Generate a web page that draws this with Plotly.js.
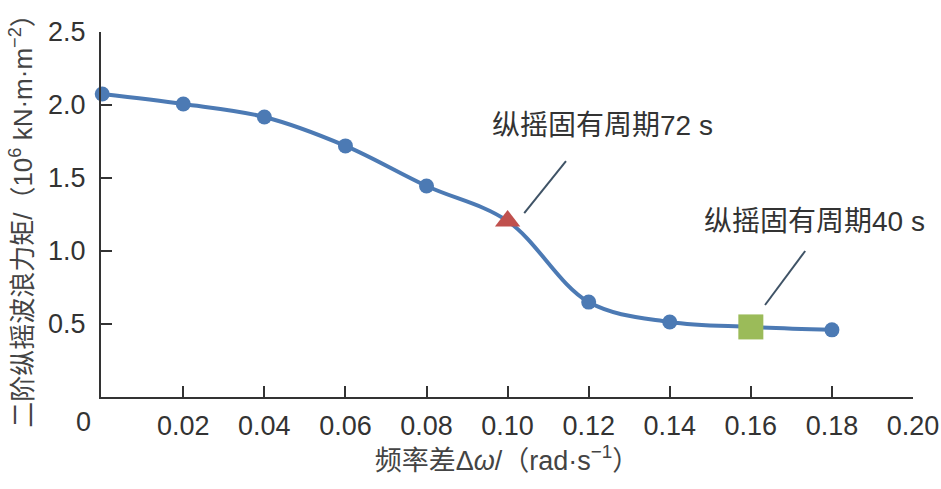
<!DOCTYPE html>
<html>
<head>
<meta charset="utf-8">
<script src="https://cdn.plot.ly/plotly-3.0.1.min.js"></script>
<style>html,body{margin:0;padding:0;background:#fff}#chart{width:941px;height:489px}</style>
</head>
<body>
<div id="chart"></div>
<script>
// Data
var freqDiff = [0, 0.02, 0.04, 0.06, 0.08, 0.10, 0.12, 0.14, 0.16, 0.18];
var moment   = [2.075, 2.007, 1.918, 1.72, 1.445, 1.205, 0.65, 0.514, 0.48, 0.46];
var xTickVals = [0.02, 0.04, 0.06, 0.08, 0.10, 0.12, 0.14, 0.16, 0.18, 0.20];
var xTickText = ['0.02', '0.04', '0.06', '0.08', '0.10', '0.12', '0.14', '0.16', '0.18', '0.20'];
var yTickVals = [0.5, 1.0, 1.5, 2.0, 2.5];
var yTickText = ['0.5', '1.0', '1.5', '2.0', '2.5'];
var pitch72X = 0.10;   // 纵摇固有周期72 s
var pitch40X = 0.16;   // 纵摇固有周期40 s

var blue = '#4C7AB4', red = '#C0504D', green = '#9BBB59';
var symbols = freqDiff.map(function (x) {
  return x === pitch72X ? 'triangle-up' : (x === pitch40X ? 'square' : 'circle');
});
var colors = freqDiff.map(function (x) {
  return x === pitch72X ? red : (x === pitch40X ? green : blue);
});
var sizes = freqDiff.map(function (x) {
  return x === pitch72X ? 22 : (x === pitch40X ? 25 : 15);
});

var trace = {
  x: freqDiff, y: moment, type: 'scatter', mode: 'lines+markers',
  line: {color: blue, width: 4, shape: 'spline', smoothing: 1},
  marker: {symbol: symbols, color: colors, size: sizes, opacity: 1, line: {width: 0}},
  cliponaxis: false, hoverinfo: 'skip'
};

var fontFam = '"Liberation Sans", Arial, "Noto Sans CJK SC", sans-serif';
var axisCol = '#333333';

var layout = {
  width: 941, height: 489,
  margin: {l: 101, r: 28, t: 32, b: 92},
  paper_bgcolor: '#fff', plot_bgcolor: '#fff',
  showlegend: false,
  font: {family: fontFam, color: axisCol, size: 27},
  xaxis: {
    range: [-0.0003, 0.2], showgrid: false, zeroline: false,
    showline: true, linecolor: axisCol, linewidth: 2,
    ticks: 'inside', ticklen: 11, tickwidth: 2, tickcolor: axisCol,
    tickvals: xTickVals, ticktext: xTickText,
    tickfont: {size: 27, color: axisCol}, ticklabelstandoff: 4,
    title: {text: '频率差Δ<i>ω</i>/（rad·s<sup>−1</sup>）', font: {size: 27, color: '#444'}, standoff: 8}
  },
  yaxis: {
    range: [0, 2.5], showgrid: false, zeroline: false,
    showline: true, linecolor: axisCol, linewidth: 2,
    ticks: 'inside', ticklen: 11, tickwidth: 2, tickcolor: axisCol,
    tickvals: yTickVals, ticktext: yTickText,
    tickfont: {size: 27, color: axisCol}, ticklabelstandoff: 8,
    title: {text: '二阶纵摇波浪力矩/（10<sup>6</sup> kN·m·m<sup>−2</sup>）', font: {size: 26, color: '#444'}, standoff: 8}
  },
  annotations: [
    {xref: 'paper', yref: 'paper', x: 0, y: 0, xanchor: 'center', yanchor: 'middle',
     xshift: -18, yshift: -25, text: '0', showarrow: false, font: {size: 27, color: axisCol}},
    {xref: 'x', yref: 'y', x: 0.1235, y: 1.863, text: '纵摇固有周期72 s',
     showarrow: false, font: {size: 28, color: '#333'}},
    {xref: 'x', yref: 'y', x: 0.1758, y: 1.199, text: '纵摇固有周期40 s',
     showarrow: false, font: {size: 28, color: '#333'}}
  ],
  shapes: [
    {type: 'line', xref: 'x', yref: 'y', x0: 0.1041, y0: 1.26, x1: 0.1144, y1: 1.616,
     line: {color: '#3F5366', width: 2}},
    {type: 'line', xref: 'x', yref: 'y', x0: 0.1635, y0: 0.63, x1: 0.1734, y1: 1.0,
     line: {color: '#3F5366', width: 2}}
  ]
};

Plotly.newPlot('chart', [trace], layout, {staticPlot: true, displayModeBar: false});
</script>
</body>
</html>
